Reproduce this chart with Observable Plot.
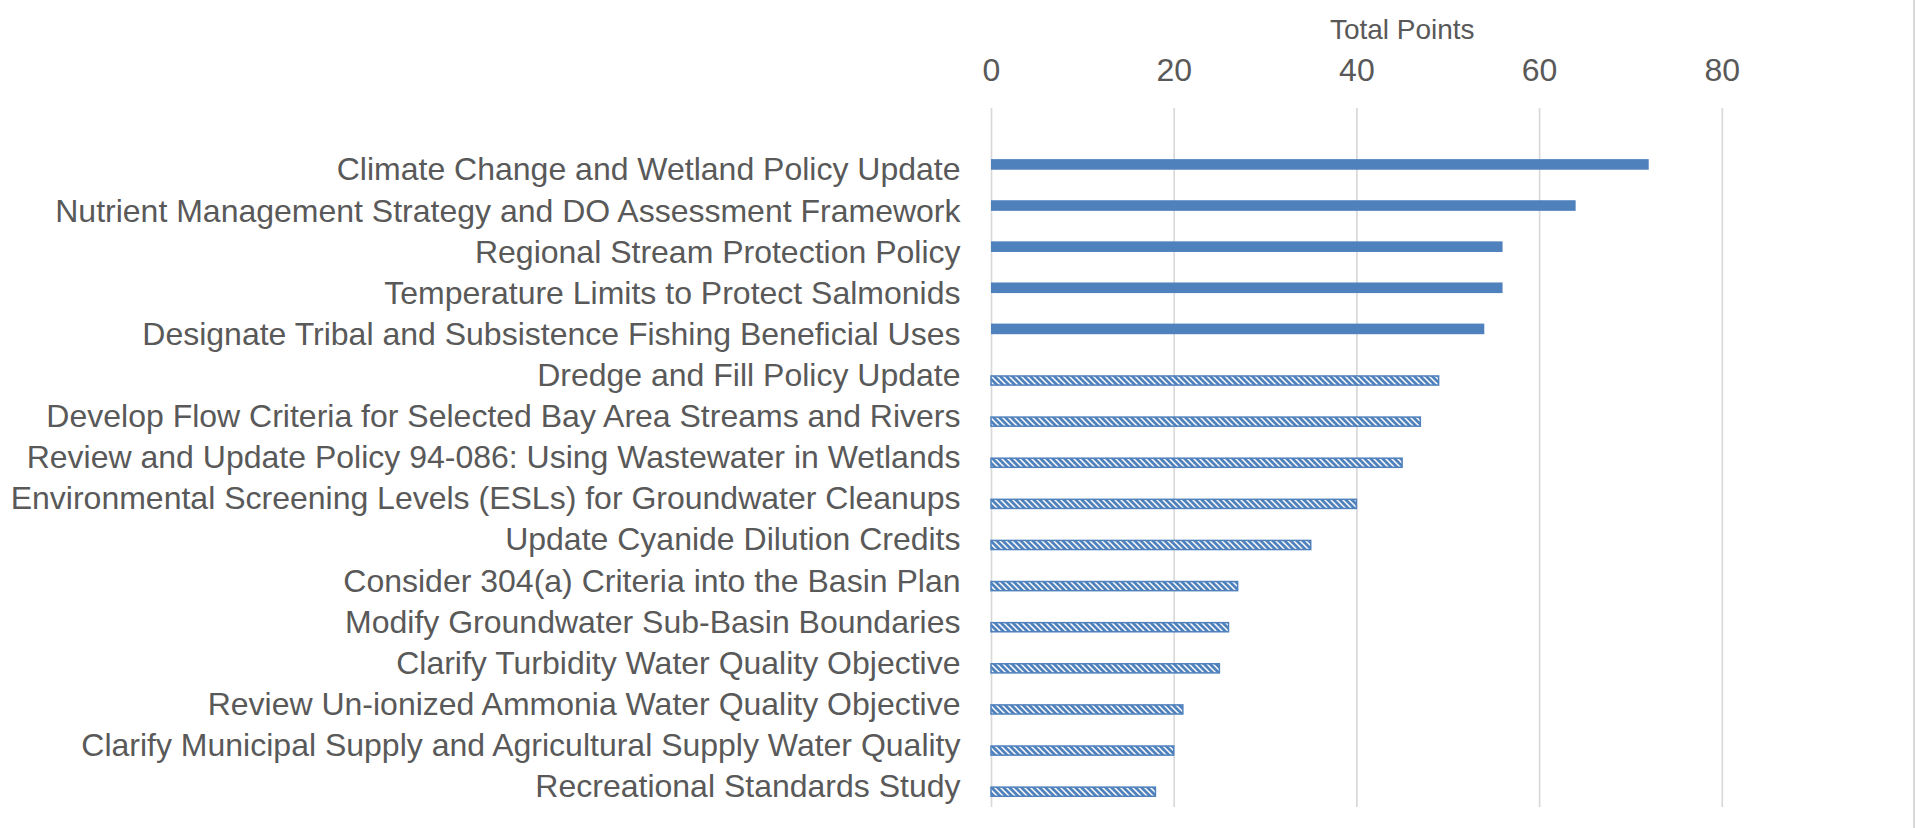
<!DOCTYPE html>
<html>
<head>
<meta charset="utf-8">
<script src="https://cdn.jsdelivr.net/npm/d3@7"></script>
<script src="https://cdn.jsdelivr.net/npm/@observablehq/plot@0.6"></script>
<style>
  html, body { margin: 0; padding: 0; background: #ffffff; }
  #wrap { position: relative; width: 1918px; height: 828px; overflow: hidden; }
  #edge { position: absolute; left: 1913px; top: 0; width: 1.7px; height: 828px; background: #d9d9d9; }
</style>
</head>
<body>
<div id="wrap"><div id="edge"></div></div>
<script>
// ---- Data ----
const projects = [
  "Climate Change and Wetland Policy Update",
  "Nutrient Management Strategy and DO Assessment Framework",
  "Regional Stream Protection Policy",
  "Temperature Limits to Protect Salmonids",
  "Designate Tribal and Subsistence Fishing Beneficial Uses",
  "Dredge and Fill Policy Update",
  "Develop Flow Criteria for Selected Bay Area Streams and Rivers",
  "Review and Update Policy 94-086: Using Wastewater in Wetlands",
  "Environmental Screening Levels (ESLs) for Groundwater Cleanups",
  "Update Cyanide Dilution Credits",
  "Consider 304(a) Criteria into the Basin Plan",
  "Modify Groundwater Sub-Basin Boundaries",
  "Clarify Turbidity Water Quality Objective",
  "Review Un-ionized Ammonia Water Quality Objective",
  "Clarify Municipal Supply and Agricultural Supply Water Quality",
  "Recreational Standards Study"
];
const totalPoints = [72, 64, 56, 56, 54, 49, 47, 45, 40, 35, 27, 26, 25, 21, 20, 18];
const tier = ["top", "top", "top", "top", "top",
  "other", "other", "other", "other", "other", "other",
  "other", "other", "other", "other", "other"];
const xTicks = [0, 20, 40, 60, 80];
const xTitle = "Total Points";

const data = projects.map((p, i) => ({project: p, points: totalPoints[i], tier: tier[i]}));

const textColor = "#595959";
const barColor = "#4F81BD";

// Two-series clustered layout: first series sits in the upper half slot of each band,
// second series in the lower half slot.
const slotOuter = 10;   // inset on the far side of the band
const slotInner = 20.5; // inset on the near side (half band)

const chart = Plot.plot({
  width: 1918,
  height: 828,
  marginTop: 108,
  marginBottom: 21,
  marginLeft: 991,
  marginRight: 13.5,
  style: {fontFamily: "'Liberation Sans', Arial, sans-serif", color: textColor, background: "transparent"},
  x: {domain: [0, 100]},
  y: {domain: projects, paddingInner: 0, paddingOuter: 0.5, align: 1, round: false},
  marks: [
    Plot.gridX(xTicks, {stroke: "#d9d9d9", strokeOpacity: 1, strokeWidth: 1.7}),
    Plot.barX(data.filter(d => d.tier === "top"), {
      x: "points", y: "project", fill: barColor, insetTop: slotOuter, insetBottom: slotInner
    }),
    Plot.barX(data.filter(d => d.tier === "other"), {
      x: "points", y: "project", fill: "url(#hatch)", stroke: barColor, strokeWidth: 1.5,
      insetTop: slotInner + 0.75, insetBottom: slotOuter + 0.75
    }),
    Plot.axisX(xTicks, {anchor: "top", tickSize: 0, tickPadding: 28, fontSize: 32, fill: textColor, label: null}),
    Plot.axisY({tickSize: 0, tickPadding: 31, fontSize: 32, fill: textColor, label: null}),
    Plot.text([xTitle], {text: d => d, frameAnchor: "top", lineAnchor: "middle", dy: -78, dx: -46, fontSize: 28, fill: textColor})
  ]
});

// hatch pattern definition (wide downward diagonal)
const ns = "http://www.w3.org/2000/svg";
const defs = document.createElementNS(ns, "defs");
defs.innerHTML = `
  <pattern id="hatch" patternUnits="userSpaceOnUse" width="6" height="6">
    <rect width="6" height="6" fill="#ffffff"></rect>
    <path d="M-1,-1 L7,7 M-1,5 L1,7 M5,-1 L7,1" stroke="${barColor}" stroke-width="2.8" fill="none"></path>
  </pattern>`;
chart.insertBefore(defs, chart.firstChild);

document.getElementById("wrap").appendChild(chart);
</script>
</body>
</html>
